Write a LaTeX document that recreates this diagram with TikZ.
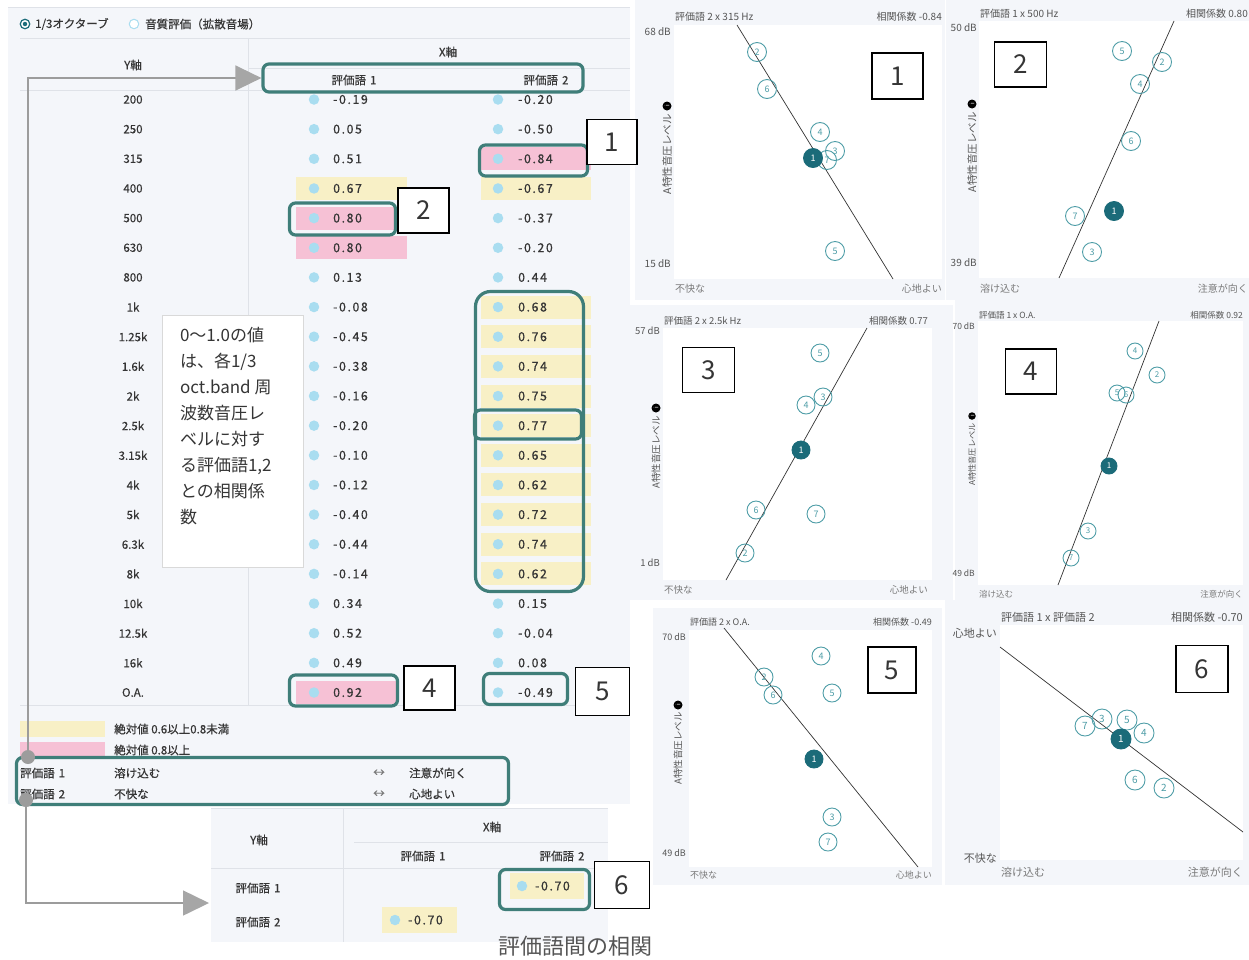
\documentclass[tikz,border=0pt]{standalone}
\usepackage{fontspec}
\setmainfont{Noto Sans CJK JP}
\newfontfamily\numf[LetterSpace=13,FakeBold=0.5]{Noto Sans CJK JP}
\newfontfamily\uif[FakeBold=0.4]{Noto Sans CJK JP}
\usetikzlibrary{arrows.meta,calc}
\definecolor{panelbg}{HTML}{F4F6FA}
\definecolor{rulec}{HTML}{DFE2E8}
\definecolor{txt}{HTML}{353535}
\definecolor{yb}{HTML}{F8F0C6}
\definecolor{pb}{HTML}{F6C1D5}
\definecolor{dotc}{HTML}{A9DDF0}
\definecolor{tealc}{HTML}{3F7E79}
\definecolor{ptc}{HTML}{4E9DA7}
\definecolor{ptd}{HTML}{1B6B79}
\definecolor{gl}{HTML}{9C9C9C}
\definecolor{ga}{HTML}{A6A6A6}
\definecolor{ptxt}{HTML}{555555}
\definecolor{pxt}{HTML}{7A7A7A}
\newcommand\fsz[1]{\fontsize{#1}{#1}\selectfont}
\begin{document}
\begin{tikzpicture}[x=1pt,y=-1pt,
  rowlab/.style={font=\uif\fsz{11.5}, text=txt, inner sep=0},
  hdr/.style={font=\uif\fsz{11.5}, text=txt, inner sep=0},
  val/.style={anchor=west, font=\numf\fsz{12.3}, text=txt, inner sep=0},
  vdot/.style={circle, fill=dotc, minimum size=10.5, inner sep=0},
  tbox/.style={draw=tealc, line width=3.2pt, rounded corners=6pt, inner sep=0},
  lbox/.style={draw=black, line width=1.8pt, fill=white, inner sep=0, font=\fsz{26}, text=txt},
  gdot/.style={circle, fill=gl, minimum size=14, inner sep=0},
  conn/.style={draw=gl, line width=1.5pt, -{Triangle[length=26pt,width=25pt,color=ga]}},
  ptitle/.style={anchor=west, text=ptxt, inner sep=0},
  pcorr/.style={anchor=east, text=ptxt, inner sep=0},
  pyl/.style={anchor=east, text=ptxt, inner sep=0},
  pxl/.style={text=pxt, inner sep=0},
  rlab/.style={rotate=90, anchor=east, text=ptxt, inner sep=0},
  info/.style={circle, fill=black, minimum size=9, inner sep=0, text=white, font=\fsz{6}, rotate=90},
  opt/.style={circle, draw=ptc, line width=0.9pt, minimum size=19, inner sep=0, font=\fsz{9}, text=ptc},
  fpt/.style={opt, fill=ptd, draw=ptd, text=white},
  rline/.style={draw=black!80, line width=0.7pt}
]
\useasboundingbox (0,0) rectangle (1249,959);
\fill[white] (0,0) rectangle (1249,959);

% ================= scatter plot 1 =================
\begin{scope}[every node/.append style={font=\fsz{10}}]
\fill[panelbg] (635,0) rectangle (945,300);
\fill[white] (674,25) rectangle (942,279);
\node[ptitle] (t1) at (675,17) {評価語 2 x 315 Hz};
\node[pcorr] (c1) at (942,17) {相関係数 -0.84};
\node[pyl] (ya1) at (671,32) {68 dB};
\node[pyl] (yb1) at (671,264) {15 dB};
\node[pxl, anchor=west] (xa1) at (675,289) {不快な};
\node[pxl, anchor=east] (xb1) at (942,289) {心地よい};
\node[info] (i1) at (667,106) {i};
\node[rlab, font=\fsz{10.5}] (r1) at (667,114) {A特性音圧レベル};
\coordinate (l1s) at (737,25); \coordinate (l1e) at (893,279);
\draw[rline] (l1s) -- (l1e);
\node[opt] (p1n2) at (757,52) {2};
\node[opt] (p1n6) at (767,89) {6};
\node[opt] (p1n4) at (820,132) {4};
\node[opt] (p1n3) at (835,151) {3};
\node[opt] (p1n7) at (827,160) {7};
\node[opt] (p1n5) at (835,251) {5};
\node[fpt] (p1n1) at (813,158) {1};
\end{scope}

% ================= scatter plot 2 =================
\begin{scope}
\clip (946,0) rectangle (1249,300);
\begin{scope}[every node/.append style={font=\fsz{10}}]
\fill[panelbg] (946,0) rectangle (1249,300);
\fill[white] (979,21) rectangle (1249,278);
\node[ptitle] (t2) at (980,14) {評価語 1 x 500 Hz};
\node[pcorr] (c2) at (1248,14) {相関係数 0.80};
\node[pyl] (ya2) at (977,28) {50 dB};
\node[pyl] (yb2) at (977,263) {39 dB};
\node[pxl, anchor=west] (xa2) at (980,289) {溶け込む};
\node[pxl, anchor=east] (xb2) at (1248,289) {注意が向く};
\node[info] (i2) at (972,104) {i};
\node[rlab, font=\fsz{10.5}] (r2) at (972,112) {A特性音圧レベル};
\coordinate (l2s) at (1174,21); \coordinate (l2e) at (1059,278);
\draw[rline] (l2s) -- (l2e);
\node[opt] (p2n5) at (1122,51) {5};
\node[opt] (p2n2) at (1162,62) {2};
\node[opt] (p2n4) at (1140,84) {4};
\node[opt] (p2n6) at (1131,141) {6};
\node[opt] (p2n7) at (1075,216) {7};
\node[opt] (p2n3) at (1092,252) {3};
\node[fpt] (p2n1) at (1114,211) {1};
\end{scope}
\end{scope}

% ================= scatter plot 3 =================
\begin{scope}[every node/.append style={font=\fsz{9.5}}]
\fill[panelbg] (630,305) rectangle (953,600);
\fill[white] (663,328) rectangle (932,580);
\node[ptitle] (t3) at (664,321) {評価語 2 x 2.5k Hz};
\node[pcorr] (c3) at (928,321) {相関係数 0.77};
\node[pyl] (ya3) at (660,331) {57 dB};
\node[pyl] (yb3) at (660,563) {1 dB};
\node[pxl, anchor=west] (xa3) at (664,590) {不快な};
\node[pxl, anchor=east] (xb3) at (928,590) {心地よい};
\node[info] (i3) at (656,408) {i};
\node[rlab, font=\fsz{9.5}] (r3) at (656,416) {A特性音圧レベル};
\coordinate (l3s) at (867,328); \coordinate (l3e) at (726,580);
\draw[rline] (l3s) -- (l3e);
\node[opt, minimum size=18] (p3n5) at (820,353) {5};
\node[opt, minimum size=18] (p3n3) at (823,397) {3};
\node[opt, minimum size=18] (p3n4) at (806,405) {4};
\node[opt, minimum size=18] (p3n6) at (756,510) {6};
\node[opt, minimum size=18] (p3n7) at (816,514) {7};
\node[opt, minimum size=18] (p3n2) at (745,553) {2};
\node[fpt, minimum size=18] (p3n1) at (801,450) {1};
\end{scope}

% ================= scatter plot 4 =================
\begin{scope}[every node/.append style={font=\fsz{8.5}}]
\fill[panelbg] (955,300) rectangle (1249,600);
\fill[white] (978,321) rectangle (1243,585);
\node[ptitle] (t4) at (979,315) {評価語 1 x O.A.};
\node[pcorr] (c4) at (1243,315) {相関係数 0.92};
\node[pyl] (ya4) at (975,326) {70 dB};
\node[pyl] (yb4) at (975,573) {49 dB};
\node[pxl, anchor=west] (xa4) at (979,594) {溶け込む};
\node[pxl, anchor=east] (xb4) at (1243,594) {注意が向く};
\node[info, minimum size=7.5] (i4) at (972,416) {i};
\node[rlab, font=\fsz{8.2}] (r4) at (972,423) {A特性音圧レベル};
\coordinate (l4s) at (1159,321); \coordinate (l4e) at (1058,585);
\draw[rline] (l4s) -- (l4e);
\node[opt, minimum size=16, font=\fsz{8}] (p4n4) at (1135,351) {4};
\node[opt, minimum size=16, font=\fsz{8}] (p4n2) at (1157,375) {2};
\node[opt, minimum size=16, font=\fsz{8}] (p4n5) at (1117,393) {5};
\node[opt, minimum size=16, font=\fsz{8}] (p4n6) at (1126,395) {6};
\node[opt, minimum size=16, font=\fsz{8}] (p4n3) at (1088,531) {3};
\node[opt, minimum size=16, font=\fsz{8}] (p4n7) at (1071,558) {7};
\node[fpt, minimum size=16, font=\fsz{8}] (p4n1) at (1109,466) {1};
\end{scope}

% ================= scatter plot 5 =================
\begin{scope}[every node/.append style={font=\fsz{9}}]
\fill[panelbg] (653,608) rectangle (942,885);
\fill[white] (689,630) rectangle (932,867);
\node[ptitle] (t5) at (690,622) {評価語 2 x O.A.};
\node[pcorr] (c5) at (932,622) {相関係数 -0.49};
\node[pyl] (ya5) at (686,637) {70 dB};
\node[pyl] (yb5) at (686,853) {49 dB};
\node[pxl, anchor=west] (xa5) at (690,875) {不快な};
\node[pxl, anchor=east] (xb5) at (932,875) {心地よい};
\node[info] (i5) at (678,705) {i};
\node[rlab, font=\fsz{9.5}] (r5) at (678,712) {A特性音圧レベル};
\coordinate (l5s) at (724,628); \coordinate (l5e) at (918,867);
\draw[rline] (l5s) -- (l5e);
\node[opt, minimum size=18] (p5n4) at (821,656) {4};
\node[opt, minimum size=18] (p5n2) at (764,677) {2};
\node[opt, minimum size=18] (p5n6) at (773,695) {6};
\node[opt, minimum size=18] (p5n5) at (832,693) {5};
\node[opt, minimum size=18] (p5n3) at (832,817) {3};
\node[opt, minimum size=18] (p5n7) at (828,842) {7};
\node[fpt, minimum size=18] (p5n1) at (814,759) {1};
\end{scope}

% ================= scatter plot 6 =================
\begin{scope}[every node/.append style={font=\fsz{11}}]
\fill[panelbg] (945,600) rectangle (1249,885);
\fill[white] (1000,625) rectangle (1243,860);
\node[ptitle] (t6) at (1001,617) {評価語 1 x 評価語 2};
\node[pcorr] (c6) at (1243,617) {相関係数 -0.70};
\node[pyl] (ya6) at (997,633) {心地よい};
\node[pyl] (yb6) at (997,858) {不快な};
\node[pxl, anchor=west] (xa6) at (1001,872) {溶け込む};
\node[pxl, anchor=east] (xb6) at (1243,872) {注意が向く};
\coordinate (l6s) at (1000,647); \coordinate (l6e) at (1243,832);
\draw[rline] (l6s) -- (l6e);
\node[opt, minimum size=20, font=\fsz{10}] (p6n7) at (1085,726) {7};
\node[opt, minimum size=20, font=\fsz{10}] (p6n3) at (1102,719) {3};
\node[opt, minimum size=20, font=\fsz{10}] (p6n5) at (1127,720) {5};
\node[opt, minimum size=20, font=\fsz{10}] (p6n4) at (1144,733) {4};
\node[opt, minimum size=20, font=\fsz{10}] (p6n6) at (1135,780) {6};
\node[opt, minimum size=20, font=\fsz{10}] (p6n2) at (1164,788) {2};
\node[fpt, minimum size=20, font=\fsz{10}] (p6n1) at (1121,739) {1};
\end{scope}

% ================= left panel =================
\fill[panelbg] (8,7) rectangle (630,804);
\draw[rulec] (8,7.5) -- (630,7.5);
\draw[rulec] (20,38) -- (630,38);
\draw[rulec] (248,68) -- (630,68);
\draw[rulec] (20,90) -- (630,90);
\draw[rulec] (248,38) -- (248,705);
\draw[rulec] (20,705) -- (630,705);

\node[circle, draw=ptd, line width=1.2pt, fill=white, minimum size=9.5, inner sep=0] (rb1) at (25,24) {};
\node[circle, fill=ptd, minimum size=4.5, inner sep=0] (rb1d) at (25,24) {};
\node[hdr, anchor=west] (rt1) at (35,24) {1/3オクターブ};
\node[circle, draw=dotc, line width=1pt, fill=white, minimum size=9.5, inner sep=0] (rb2) at (134,24) {};
\node[hdr, anchor=west] (rt2) at (145,24) {音質評価（拡散音場）};

\node[hdr] (yax) at (133,65) {Y軸};
\node[hdr] (xax) at (448,52) {X軸};
\node[hdr] (h1) at (354,80) {評価語\hspace{0.35em}1};
\node[hdr] (h2) at (546,80) {評価語\hspace{0.35em}2};

% highlight bands
\foreach \i/\xa/\xb/\bc in {3/296/407/yb, 4/296/407/pb, 5/296/407/pb, 20/296/397/pb,
  2/481/591/pb, 3/481/591/yb, 7/481/591/yb, 8/481/591/yb, 9/481/591/yb, 10/481/591/yb,
  11/481/591/yb, 12/481/591/yb, 13/481/591/yb, 14/481/591/yb, 15/481/591/yb, 16/481/591/yb}{
  \pgfmathsetmacro\yy{99.5+29.65*\i}
  \fill[\bc] (\xa,\yy-11.5) rectangle (\xb,\yy+11.5);
}

% rows
\foreach \lab/\va/\vb [count=\i from 0] in {200/-0.19/-0.20, 250/0.05/-0.50, 315/0.51/-0.84,
  400/0.67/-0.67, 500/0.80/-0.37, 630/0.80/-0.20, 800/0.13/0.44, 1k/-0.08/0.68,
  1.25k/-0.45/0.76, 1.6k/-0.38/0.74, 2k/-0.16/0.75, 2.5k/-0.20/0.77, 3.15k/-0.10/0.65,
  4k/-0.12/0.62, 5k/-0.40/0.72, 6.3k/-0.44/0.74, 8k/-0.14/0.62, 10k/0.34/0.15,
  12.5k/0.52/-0.04, 16k/0.49/0.08, O.A./0.92/-0.49}{
  \pgfmathsetmacro\yy{99.5+29.65*\i}
  \node[rowlab] (rl\i) at (133,\yy) {\lab};
  \node[vdot] (da\i) at (314,\yy) {};
  \node[val] (va\i) at (333,\yy) {\va};
  \node[vdot] (db\i) at (498,\yy) {};
  \node[val] (vb\i) at (518,\yy) {\vb};
}

% explanation box
\node[draw=black!15, fill=white, minimum width=141, minimum height=252, inner sep=0] (tbx) at (232.5,441.5) {};
\node[anchor=north west, align=left, inner sep=0, font=\fontsize{17}{26}\selectfont, text=txt] (tbt)
  at ($(tbx.north west)+(18,12)$)
  {0～1.0の値\\は、各1/3\\oct.band 周\\波数音圧レ\\ベルに対す\\る評価語1,2\\との相関係\\数};

% legend
\fill[yb] (20,721) rectangle (105,737);
\node[hdr, anchor=west] (lg1) at (114,729) {絶対値 0.6以上0.8未満};
\fill[pb] (20,742) rectangle (105,758);
\node[hdr, anchor=west] (lg2) at (114,750) {絶対値 0.8以上};
\node[hdr, anchor=west] (lw1) at (20,773) {評価語\hspace{0.35em}1};
\node[hdr, anchor=west] (lw1a) at (114,773) {溶け込む};
\node[hdr, text=pxt] (lw1b) at (379,773) {↔};
\node[hdr, anchor=west] (lw1c) at (409,773) {注意が向く};
\node[hdr, anchor=west] (lw2) at (20,794) {評価語\hspace{0.35em}2};
\node[hdr, anchor=west] (lw2a) at (114,794) {不快な};
\node[hdr, text=pxt] (lw2b) at (379,794) {↔};
\node[hdr, anchor=west] (lw2c) at (409,794) {心地よい};

% ================= bottom table =================
\fill[panelbg] (211,808) rectangle (608,942);
\draw[rulec] (211,808) -- (608,808);
\draw[rulec] (343,808) -- (343,942);
\draw[rulec] (354,842) -- (608,842);
\draw[rulec] (211,868) -- (608,868);
\node[hdr] (byax) at (259,840) {Y軸};
\node[hdr] (bxax) at (492,827) {X軸};
\node[hdr] (bh1) at (423,856) {評価語\hspace{0.35em}1};
\node[hdr] (bh2) at (562,856) {評価語\hspace{0.35em}2};
\node[hdr] (br1) at (258,888) {評価語\hspace{0.35em}1};
\node[hdr] (br2) at (258,922) {評価語\hspace{0.35em}2};
\fill[yb] (510,873) rectangle (584,899);
\node[vdot] (bd1) at (522,886) {};
\node[val] (bv1) at (535,886) {-0.70};
\fill[yb] (382,907) rectangle (457,933);
\node[vdot] (bd2) at (395,920) {};
\node[val] (bv2) at (408,920) {-0.70};
\node[font=\fsz{22}, text=ptxt, inner sep=0] (cap) at (575,946) {評価語間の相関};

% ================= teal highlight boxes =================
\node[tbox, minimum width=320, minimum height=28] (hbox) at (423,78) {};
\node[tbox, minimum width=108, minimum height=31] (b084) at (533.5,160.5) {};
\node[tbox, minimum width=106, minimum height=32] (b080) at (342.5,219) {};
\node[tbox, rounded corners=15pt, minimum width=108, minimum height=300] (bbig) at (529.5,441.5) {};
\node[tbox, minimum width=107, minimum height=29] (b077) at (528,424.5) {};
\node[tbox, minimum width=108, minimum height=31] (b092) at (343.5,690.5) {};
\node[tbox, minimum width=84, minimum height=31] (b049) at (525.5,689) {};
\node[tbox, minimum width=492, minimum height=47] (blg) at (262.5,781) {};
\node[tbox, minimum width=90, minimum height=40] (b070) at (544.5,889.5) {};

% ================= connectors =================
\node[gdot] (d1) at (28,757) {};
\node[gdot] (d2) at (26,800) {};
\coordinate (a2) at (209,903);
\draw[conn] (d1) |- (hbox.west);
\draw[conn] (d2) |- (a2);

% ================= number labels =================
\node[lbox, minimum width=50, minimum height=45] (n1) at (612,142) {1};
\node[lbox, minimum width=51, minimum height=45] (n2) at (423.5,210.5) {2};
\node[lbox, minimum width=51, minimum height=44] (n4) at (429.5,688) {4};
\node[lbox, minimum width=54, minimum height=48] (n5) at (602.5,691.5) {5};
\node[lbox, minimum width=55, minimum height=47] (n6) at (622,885) {6};
\node[lbox, minimum width=51, minimum height=46] (m1) at (897.5,76) {1};
\node[lbox, minimum width=52, minimum height=45] (m2) at (1020.5,64.5) {2};
\node[lbox, minimum width=52, minimum height=45] (m3) at (708.5,370) {3};
\node[lbox, minimum width=51, minimum height=45] (m4) at (1031,371.5) {4};
\node[lbox, minimum width=48, minimum height=46] (m5) at (892,670) {5};
\node[lbox, minimum width=52, minimum height=47] (m6) at (1202,669) {6};
\end{tikzpicture}
\end{document}
